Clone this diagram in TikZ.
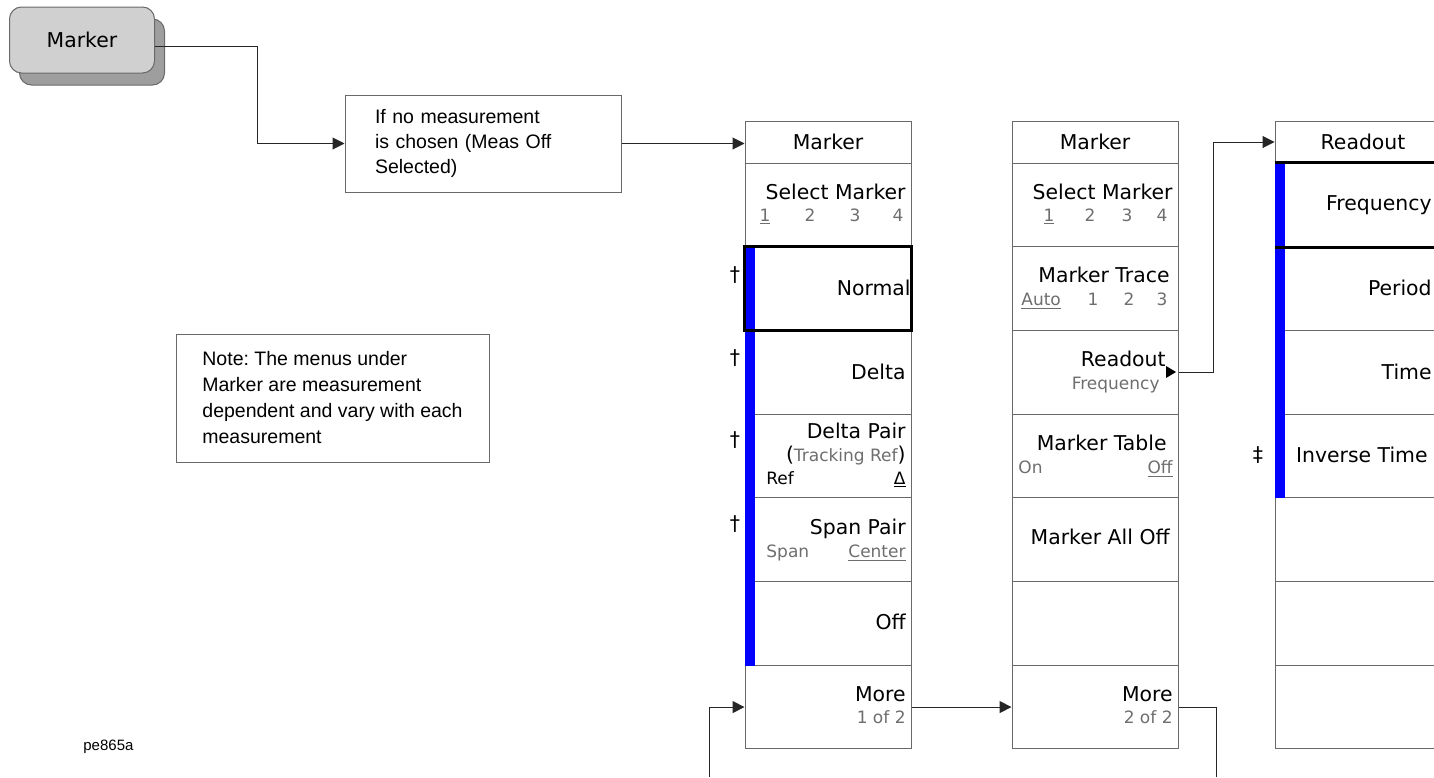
\documentclass[tikz,border=0pt]{standalone}
\usepackage{fontspec}
\setmainfont{Liberation Sans}
\newfontfamily\keyfont{DejaVu Sans}
\usetikzlibrary{arrows.meta}
\frenchspacing
\definecolor{edgegray}{RGB}{105,105,105}
\definecolor{subgray}{RGB}{110,110,110}
\definecolor{keyface}{RGB}{208,208,208}
\definecolor{keyshade}{RGB}{158,158,158}
\definecolor{activeblue}{RGB}{0,0,255}
\newcommand{\mainFace}{\keyfont\fontsize{10.2}{12}\selectfont}
\newcommand{\subFace}{\keyfont\fontsize{8.5}{10}\selectfont}

\begin{document}
\begin{tikzpicture}[x=0.5pt,y=-0.5pt,
  softkey/.style={draw=edgegray, line width=0.5pt, minimum width=83pt, minimum height=41.85pt, inner sep=0pt},
  menutitle/.style={softkey, minimum height=21pt, font=\mainFace},
  keycap/.style={draw=edgegray, line width=0.5pt, rounded corners=6pt, fill=keyface, minimum width=72.5pt, minimum height=33pt, inner sep=0pt, font=\mainFace},
  notebox/.style={draw=edgegray, line width=0.5pt, align=left, inner xsep=15pt, inner ysep=0pt},
  keytext/.style={anchor=base east, inner sep=0pt, font=\mainFace},
  keysub/.style={anchor=base east, inner sep=0pt, text=subgray, font=\subFace},
  link/.style={draw=black!85, line width=0.5pt, -{Triangle[length=6pt,width=6pt]}},
  wire/.style={draw=black!85, line width=0.5pt},
  selbox/.style={draw=black, line width=1.5pt}]
\useasboundingbox (0,0) rectangle (1434,777);
\clip (0,0) rectangle (1434,777);
\node[keycap, fill=keyshade] (keyShade) at (92,52) {};
\node[keycap] (keyMarker) at (82,40) {Marker};
\node[notebox, minimum width=138pt, minimum height=48.5pt, text width=108pt, font=\fontsize{9.75}{12.6}\selectfont] (condBox) at (483,143.5) {If no measurement\\is chosen (Meas Off\\Selected)};
\node[notebox, inner xsep=12.5pt, minimum width=156.5pt, minimum height=64pt, font=\fontsize{9.75}{13}\selectfont] (noteBox) at (332.5,398) {Note: The menus under\\Marker are measurement\\dependent and vary with each\\measurement};
\node[anchor=base west, inner sep=0pt, font=\fontsize{7.5}{9}\selectfont] (figTag) at (83,750) {pe865a};
\node[menutitle] (m1Title) at (828,142) {Marker};
\node[softkey] (m1Select) at (828,204.85) {};
\node[softkey] (m1Normal) at (828,288.55) {};
\node[softkey] (m1Delta) at (828,372.25) {};
\node[softkey] (m1Pair) at (828,455.95) {};
\node[softkey] (m1Span) at (828,539.65) {};
\node[softkey] (m1Off) at (828,623.35) {};
\node[softkey] (m1More) at (828,707.05) {};
\node[menutitle] (m2Title) at (1095,142) {Marker};
\node[softkey] (m2Select) at (1095,204.85) {};
\node[softkey] (m2Trace) at (1095,288.55) {};
\node[softkey] (m2Readout) at (1095,372.25) {};
\node[softkey] (m2Table) at (1095,455.95) {};
\node[softkey] (m2AllOff) at (1095,539.65) {};
\node[softkey] (m2Blank) at (1095,623.35) {};
\node[softkey] (m2More) at (1095,707.05) {};
\node[menutitle, text width=73pt, align=center] (m3Title) at (1358,142) {\hspace*{5pt}Readout};
\node[softkey] (m3Freq) at (1358,204.85) {};
\node[softkey] (m3Period) at (1358,288.55) {};
\node[softkey] (m3Time) at (1358,372.25) {};
\node[softkey] (m3Inverse) at (1358,455.95) {};
\node[softkey] (m3BlankA) at (1358,539.65) {};
\node[softkey] (m3BlankB) at (1358,623.35) {};
\node[softkey] (m3BlankC) at (1358,707.05) {};
\fill[activeblue] (m1Normal.north west) rectangle ([xshift=5pt]m1Off.south west);
\fill[activeblue] (m3Freq.north west) rectangle ([xshift=5pt]m3Inverse.south west);
\draw[selbox] (m3Freq.north west) -- (m3Freq.north east);
\draw[selbox] (m3Freq.south west) -- (m3Freq.south east);
\node[keytext] (l1Select) at (906,199) {Select Marker};
\node[keysub, anchor=base] (l1SelOne) at (765,221) {\underline{1}};
\node[keysub, anchor=base] (l1SelTwo) at (810,221) {2};
\node[keysub, anchor=base] (l1SelThree) at (855,221) {3};
\node[keysub, anchor=base] (l1SelFour) at (898,221) {4};
\node[keytext] (l1Normal) at (911,295) {Normal};
\draw[selbox] (m1Normal.north west) rectangle (m1Normal.south east);
\node[keytext] (l1Delta) at (906,379) {Delta};
\node[keytext] (l1Pair) at (906,438) {Delta Pair};
\node[keytext] (l1Track) at (906,461) {(\textcolor{subgray}{\subFace Tracking Ref})};
\node[keysub, anchor=base west, text=black] (l1Ref) at (766,484) {Ref};
\node[keysub, text=black] (l1Delt) at (906,484) {\underline{Δ}};
\node[keytext] (l1Span) at (906,534) {Span Pair};
\node[keysub, anchor=base west] (l1SpanA) at (766,557) {Span};
\node[keysub] (l1Center) at (906,557) {\underline{Center}};
\node[keytext] (l1Off) at (906,629) {Off};
\node[keytext] (l1More) at (906,701) {More};
\node[keysub] (l1Page) at (906,723) {1 of 2};
\node[keytext, anchor=base] (d1Normal) at (735,281) {†};
\node[keytext, anchor=base] (d1Delta) at (735,364) {†};
\node[keytext, anchor=base] (d1Pair) at (735,446) {†};
\node[keytext, anchor=base] (d1Span) at (735,530) {†};
\node[keytext] (l2Select) at (1173,199) {Select Marker};
\node[keysub, anchor=base] (l2SelOne) at (1049,221) {\underline{1}};
\node[keysub, anchor=base] (l2SelTwo) at (1090,221) {2};
\node[keysub, anchor=base] (l2SelThree) at (1127,221) {3};
\node[keysub, anchor=base] (l2SelFour) at (1162,221) {4};
\node[keytext] (l2Trace) at (1170,282) {Marker Trace};
\node[keysub, anchor=base west] (l2Auto) at (1021,305) {\underline{Auto}};
\node[keysub, anchor=base] (l2TrOne) at (1093,305) {1};
\node[keysub, anchor=base] (l2TrTwo) at (1129,305) {2};
\node[keysub, anchor=base] (l2TrThree) at (1162,305) {3};
\node[keytext] (l2Readout) at (1166,366) {Readout};
\node[keysub] (l2Freq) at (1160,389) {Frequency};
\fill[black] (1166,366) -- (1176,372) -- (1166,378) -- cycle;
\node[keytext] (l2Table) at (1167,450) {Marker Table};
\node[keysub, anchor=base west] (l2On) at (1018,473) {On};
\node[keysub] (l2OffSub) at (1173,473) {\underline{Off}};
\node[keytext] (l2AllOff) at (1170,544) {Marker All Off};
\node[keytext] (l2More) at (1173,701) {More};
\node[keysub] (l2Page) at (1173,723) {2 of 2};
\node[keytext] (l3Freq) at (1432,210) {Frequency};
\node[keytext] (l3Period) at (1432,295) {Period};
\node[keytext] (l3Time) at (1432,379) {Time};
\node[keytext] (l3Inverse) at (1428,462) {Inverse Time};
\node[keytext, anchor=base] (d3Inverse) at (1258,461) {‡};
\coordinate (loopL) at (709,777);
\coordinate (loopR) at (1216,777);
\draw[link] ([yshift=-3pt]keyMarker.east) -- ++(102,0) |- (condBox.west);
\draw[link] (condBox.east) -- (condBox.east -| m1Title.west);
\draw[link] (m2Readout.east) -- ++(35,0) |- (m3Title.west);
\draw[link] (m1More.east) -- (m2More.west);
\draw[wire] (m2More.east) -| (loopR);
\draw[link] (loopL) |- (m1More.west);
\end{tikzpicture}
\end{document}
